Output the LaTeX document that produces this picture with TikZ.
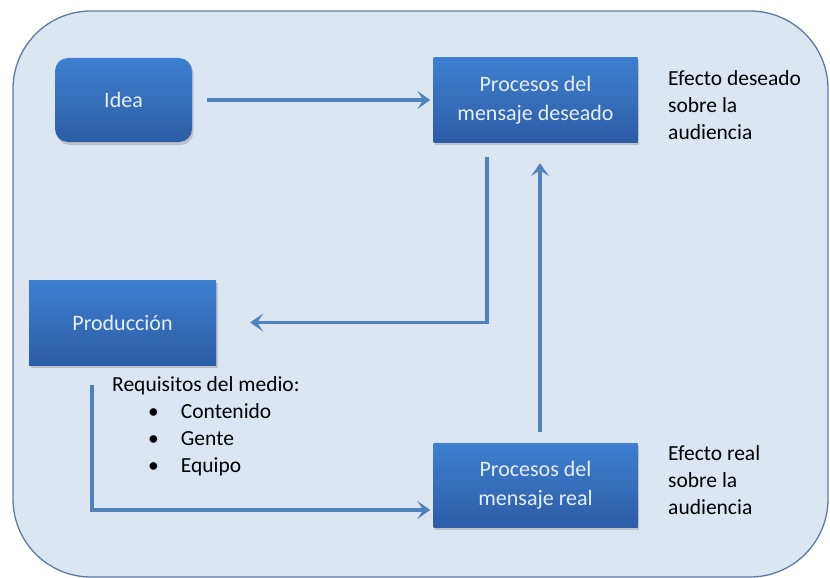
\documentclass[tikz,border=0pt]{standalone}
\usepackage{fontspec}
\setmainfont{Carlito}
\usetikzlibrary{arrows.meta,shadows,calc}
\definecolor{bgfill}{HTML}{DCE6F2}
\definecolor{bgline}{HTML}{5F7AA2}
\definecolor{boxtop}{HTML}{3E7FD1}
\definecolor{boxbot}{HTML}{2C5DA5}
\definecolor{arr}{HTML}{4F81BD}
\definecolor{boxtext}{HTML}{E6EEF8}
\begin{document}
\begin{tikzpicture}[x=1pt,y=-1pt,
  txt/.style={font=\fontsize{21.5}{27}\selectfont, text=black, align=left, inner sep=0pt},
  box/.style={draw=none, top color=boxtop, bottom color=boxbot, text=boxtext,
    font=\fontsize{22}{28.5}\selectfont, align=center, inner sep=0pt,
    drop shadow={shadow xshift=1.5pt, shadow yshift=-3pt, opacity=0.35}},
  conn/.style={draw=arr, line width=3.5pt, -{Stealth[length=13pt,width=18pt,inset=6pt]}}]
\useasboundingbox (0,0) rectangle (830,578);
\fill[white] (0,0) rectangle (830,578);
\draw[bgline, fill=bgfill, line width=1.3pt, rounded corners=78pt] (13,11) rectangle (828,577);
\node[box, rounded corners=13pt, minimum width=137pt, minimum height=84pt] (idea) at (123.5,100) {Idea};
\node[box, minimum width=204pt, minimum height=84pt] (des) at (535.5,100) {Procesos del\\mensaje deseado};
\node[box, minimum width=187pt, minimum height=85pt] (prod) at (122.5,322.5) {Producción};
\node[box, minimum width=204pt, minimum height=84pt] (real) at (535.5,485) {Procesos del\\mensaje real};
\node[txt, anchor=west] (efd) at (668,105) {Efecto deseado\\sobre la\\audiencia};
\node[txt, anchor=west] (efr) at (668,480) {Efecto real\\sobre la\\audiencia};
\node[txt, anchor=west] (req) at (112,426) {Requisitos del medio:\\\hspace{36pt}\textbullet\hspace{22pt}Contenido\\\hspace{36pt}\textbullet\hspace{22pt}Gente\\\hspace{36pt}\textbullet\hspace{22pt}Equipo};
\draw[conn] ([xshift=15pt]idea.east) -- ([xshift=-3pt]des.west);
\draw[conn] ($(des.south)+(-48.5,15)$) |- ([xshift=34pt]prod.east);
\draw[conn] ($(real.north)+(4.5,-11)$) -- ($(des.south)+(4.5,21)$);
\draw[conn] ($(prod.south)+(-30.5,20)$) |- ($(real.west)+(-3,25)$);
\end{tikzpicture}
\end{document}
